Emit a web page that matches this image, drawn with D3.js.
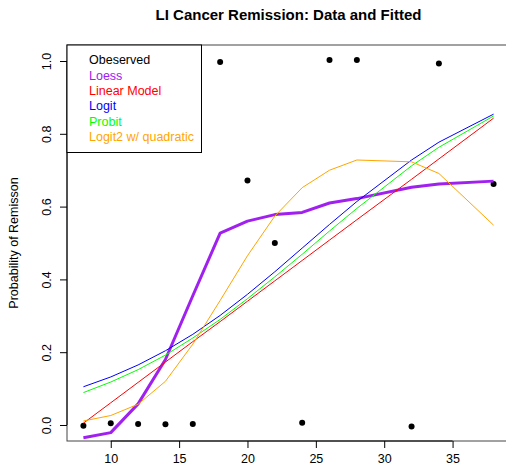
<!DOCTYPE html>
<html>
<head>
<meta charset="utf-8">
<script src="https://cdn.jsdelivr.net/npm/d3@7"></script>
<style>
  body { margin: 0; background: #fff; }
  svg { display: block; font-family: "Liberation Sans", Arial, sans-serif; }
</style>
</head>
<body>
<div id="chart"></div>
<script>
// LI values and the observed (jittered) remission proportions
const li = [8, 10, 12, 14, 16, 18, 20, 22, 24, 26, 28, 32, 34, 38];
const observed = [-0.002, 0.005, 0.003, 0.002, 0.003, 0.997, 0.672, 0.5, 0.006, 1.003, 1.003, -0.004, 0.993, 0.662];

// fitted curves
const loess = [-0.035, -0.021, 0.058, 0.18, 0.355, 0.527, 0.56, 0.578, 0.584, 0.61, 0.622, 0.653, 0.662, 0.67];
const linearModel = [0.005, 0.061, 0.117, 0.173, 0.229, 0.284, 0.34, 0.396, 0.452, 0.508, 0.564, 0.675, 0.731, 0.843];
const logit = [0.105, 0.132, 0.165, 0.204, 0.249, 0.301, 0.359, 0.421, 0.486, 0.551, 0.614, 0.728, 0.777, 0.854];
const probit = [0.089, 0.118, 0.152, 0.192, 0.239, 0.29, 0.347, 0.407, 0.469, 0.533, 0.595, 0.712, 0.763, 0.849];
const logit2 = [0.011, 0.026, 0.057, 0.12, 0.222, 0.342, 0.465, 0.574, 0.652, 0.7, 0.728, 0.723, 0.691, 0.549];

const xTicks = [10, 15, 20, 25, 30, 35];
const yTicks = [0, 0.2, 0.4, 0.6, 0.8, 1.0];

const legendLabels = ["Obeserved", "Loess", "Linear Model", "Logit", "Probit", "Logit2 w/ quadratic"];
const legendColors = ["#000000", "#A020F0", "#FF0000", "#0000FF", "#00FF00", "#FFA500"];

const W = 506, H = 471;
const plot = { left: 67, right: 510, top: 45, bottom: 441 };

const svg = d3.select("#chart")
  .append("svg")
    .attr("width", W)
    .attr("height", H);

const x = d3.scaleLinear().domain([6.8, 39.2]).range([plot.left, plot.right]);
const y = d3.scaleLinear().domain([-0.044, 1.044]).range([plot.bottom, plot.top]);

// box around plot region
svg.append("rect")
  .attr("x", plot.left)
  .attr("y", plot.top)
  .attr("width", plot.right - plot.left)
  .attr("height", plot.bottom - plot.top)
  .attr("fill", "none")
  .attr("stroke", "#444")
  .attr("stroke-width", 1);

// axes
const xAxis = svg.append("g")
  .attr("transform", `translate(0,${plot.bottom})`)
  .call(d3.axisBottom(x).tickValues(xTicks).tickSize(7).tickPadding(6).tickFormat(d3.format("d")));

const yAxis = svg.append("g")
  .attr("transform", `translate(${plot.left},0)`)
  .call(d3.axisLeft(y).tickValues(yTicks).tickSize(7).tickPadding(0).tickFormat(d3.format(".1f")));

[xAxis, yAxis].forEach(g => {
  g.select(".domain").remove();
  g.selectAll("line").attr("stroke", "#000");
  g.selectAll("text").attr("font-size", "12.5px").attr("fill", "#000")
    .attr("font-family", "Liberation Sans, Arial, sans-serif");
});

// axis lines only between first and last tick
xAxis.append("line")
  .attr("x1", x(10)).attr("x2", x(35)).attr("y1", 0).attr("y2", 0)
  .attr("stroke", "#000");
yAxis.append("line")
  .attr("y1", y(0)).attr("y2", y(1)).attr("x1", 0).attr("x2", 0)
  .attr("stroke", "#000");

// rotated y tick labels like R
yAxis.selectAll(".tick text")
  .attr("text-anchor", "middle")
  .attr("dy", "0")
  .attr("x", 0)
  .attr("transform", "translate(-19,0) rotate(-90)")
  .attr("dominant-baseline", "middle");

// titles
svg.append("text")
  .attr("x", (plot.left + plot.right) / 2)
  .attr("y", 20)
  .attr("text-anchor", "middle")
  .attr("font-size", "15px")
  .attr("font-weight", "bold")
  .text("LI Cancer Remission: Data and Fitted");

svg.append("text")
  .attr("transform", `translate(15,${(plot.top + plot.bottom) / 2}) rotate(-90)`)
  .attr("text-anchor", "middle")
  .attr("dominant-baseline", "middle")
  .attr("font-size", "12.5px")
  .text("Probability of Remisson");

// observed points
svg.selectAll(".pt")
  .data(li)
  .enter()
  .append("circle")
    .attr("class", "pt")
    .attr("cx", d => x(d))
    .attr("cy", (d, i) => y(observed[i]))
    .attr("r", 3)
    .attr("fill", "#000");

// fitted lines
const line = d3.line()
  .x(d => x(d[0]))
  .y(d => y(d[1]));

const series = [
  { vals: loess, color: legendColors[1], width: 3 },
  { vals: linearModel, color: legendColors[2], width: 1 },
  { vals: logit, color: legendColors[3], width: 1 },
  { vals: probit, color: legendColors[4], width: 1 },
  { vals: logit2, color: legendColors[5], width: 1 }
];

series.forEach(s => {
  svg.append("path")
    .datum(li.map((v, i) => [v, s.vals[i]]))
    .attr("d", line)
    .attr("fill", "none")
    .attr("stroke", s.color)
    .attr("stroke-width", s.width)
    .attr("stroke-linejoin", "round");
});

// legend, top left
const legend = svg.append("g");
legend.append("rect")
  .attr("x", plot.left)
  .attr("y", plot.top)
  .attr("width", 134.5)
  .attr("height", 107.5)
  .attr("fill", "#fff")
  .attr("stroke", "#000");

legend.selectAll("text")
  .data(legendLabels)
  .enter()
  .append("text")
    .attr("x", 89)
    .attr("y", (d, i) => 61 + i * 15.4)
    .attr("dominant-baseline", "middle")
    .attr("font-size", "12.5px")
    .attr("fill", (d, i) => legendColors[i])
    .text(d => d);
</script>
</body>
</html>
